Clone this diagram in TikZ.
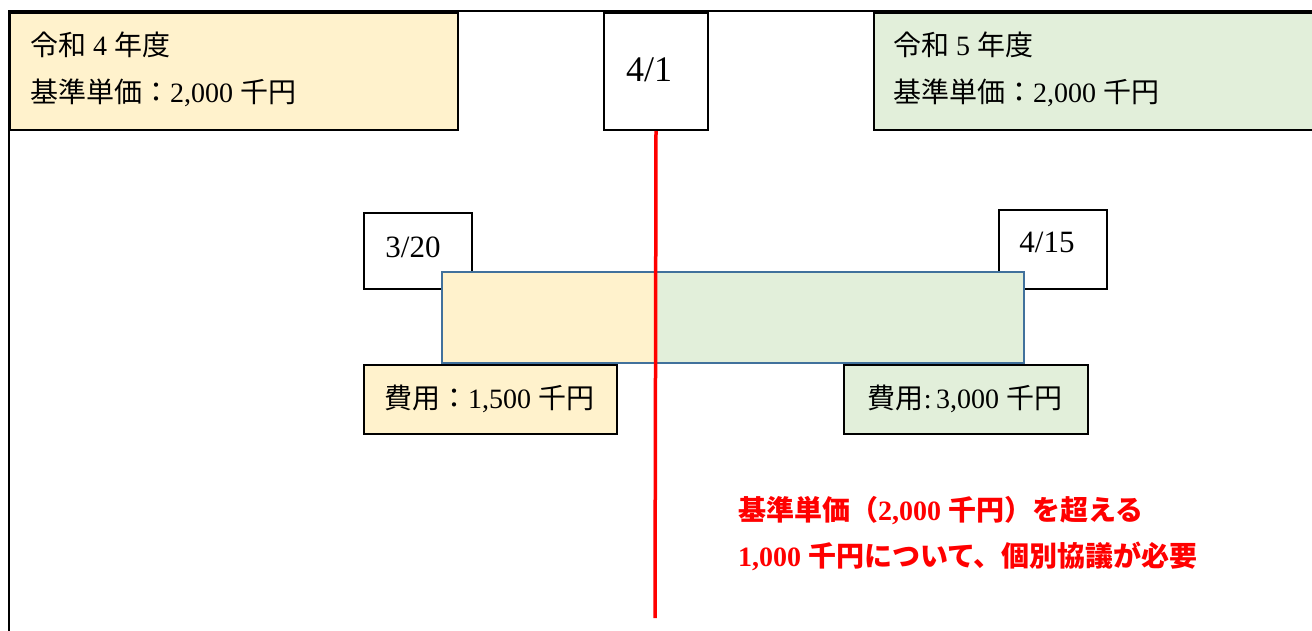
\documentclass[tikz,border=0pt]{standalone}
\usepackage{fontspec}
\setmainfont{Liberation Serif}
\newfontfamily\jp{Noto Sans CJK JP}[Scale=1.0]
\newcommand\J[1]{{\jp #1}}
\definecolor{yel}{HTML}{FFF2CC}
\definecolor{grn}{HTML}{E2EFDA}
\definecolor{barblue}{HTML}{41719C}
\definecolor{rd}{HTML}{FF0000}
\tikzset{
  frame/.style={draw=black,line width=2pt},
  box/.style={draw=black,line width=2pt},
  txt/.style={inner sep=0pt,font=\fontsize{28}{34}\selectfont},
  datetxt/.style={inner sep=0pt,font=\fontsize{31}{36}\selectfont,anchor=base},
  redtxt/.style={inner sep=0pt,text=rd,font=\fontsize{28}{34}\selectfont\bfseries,anchor=base west},
}
\begin{document}
\begin{tikzpicture}[x=1pt,y=-1pt]
\useasboundingbox (0,0) rectangle (1312,631);
% outer frame
\coordinate (fbl) at (9,631);
\coordinate (ftl) at (9,11);
\coordinate (ftr) at (1312,11);
\draw[frame] (fbl) -- (ftl) -- (ftr);
% top boxes
\node[box,fill=yel,minimum width=448pt,minimum height=117pt,anchor=north west] (y4) at (9,12) {};
\node[box,fill=grn,minimum width=445pt,minimum height=117pt,anchor=north west] (y5) at (873,12) {};
\node[box,fill=white,minimum width=104pt,minimum height=117pt,anchor=north west] (d41) at (603,12) {};
\node[txt,anchor=base west] (t4a) at (30,56) {\J{令和} 4 \J{年度}};
\node[txt,anchor=base west] (t4b) at (30,103) {\J{基準単価：}2,000 \J{千円}};
\node[txt,anchor=base west] (t5a) at (893,56) {\J{令和} 5 \J{年度}};
\node[txt,anchor=base west] (t5b) at (893,103) {\J{基準単価：}2,000 \J{千円}};
\node[inner sep=0pt,font=\fontsize{36}{40}\selectfont,anchor=base] (t41) at (649,82) {4/1};
% date boxes (behind bar)
\node[box,fill=white,minimum width=108pt,minimum height=76pt,anchor=north west] (d320) at (363,212) {};
\node[box,fill=white,minimum width=108pt,minimum height=79pt,anchor=north west] (d415) at (998,209) {};
\node[txt,datetxt] (t320) at (413,258) {3/20};
\node[txt,datetxt] (t415) at (1047,253) {4/15};
% bar
\fill[yel] (441,271) rectangle (655,362);
\fill[grn] (655,271) rectangle (1023,362);
\node[draw=barblue,line width=2.2pt,minimum width=582pt,minimum height=91pt,anchor=north west] (bar) at (441,271) {};
% cost boxes
\node[box,fill=yel,minimum width=253pt,minimum height=69pt,anchor=north west] (c1) at (363,364) {};
\node[box,fill=grn,minimum width=244pt,minimum height=69pt,anchor=north west] (c2) at (843,364) {};
\node[txt,anchor=base] (tc1) at (489,408) {\J{費用：}1,500 \J{千円}};
\node[txt,anchor=base] (tc2) at (965,408) {\J{費用}:\,3,000 \J{千円}};
% red line
\coordinate (rl) at (655,618);
\draw[rd,line width=3.5pt] (d41.south) -- (rl);
% red note
\node[redtxt] (n1) at (738,520) {\J{基準単価（}2,000 \J{千円）を超える}};
\node[redtxt] (n2) at (738,566) {1,000 \J{千円について、個別協議が必要}};
\end{tikzpicture}
\end{document}
